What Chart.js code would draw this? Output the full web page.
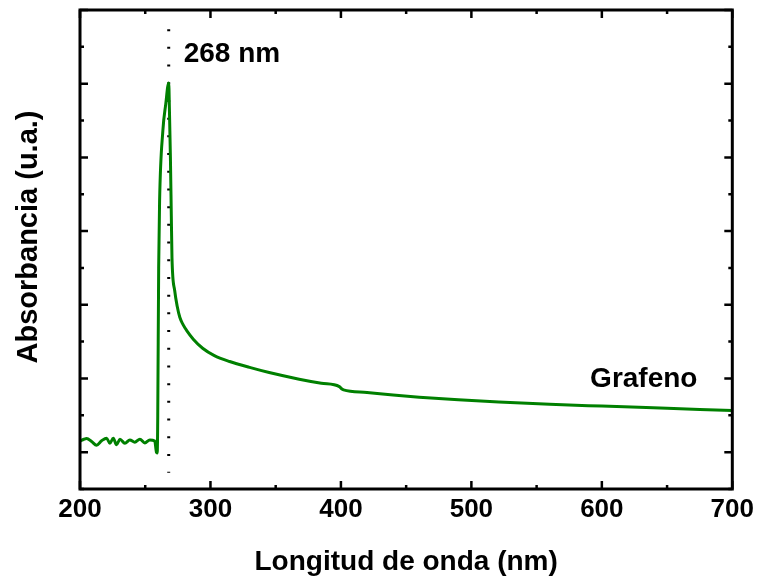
<!DOCTYPE html>
<html>
<head>
<meta charset="utf-8">
<script src="https://cdn.jsdelivr.net/npm/chart.js@4.4.1/dist/chart.umd.min.js"></script>
<style>
  html, body { margin: 0; padding: 0; background: #ffffff; }
  #c { display: block; }
</style>
</head>
<body>
<canvas id="c" width="759" height="579"></canvas>
<script>
// ---- data ----
const wavelength = [200, 203, 205.1, 208.9, 212.7, 216.6, 220.4, 222.9, 225.5, 228.0, 230.6,
  234.4, 238.2, 242.0, 245.9, 249.7, 253.5, 257.3, 258.6, 259.2, 259.6,
  260.3, 261.0, 263.5, 265.7, 268.0, 268.6, 269.3, 270.0, 270.5, 272.6,
  274.5, 276.5, 279.0, 281.8, 287.0, 294.0, 303.0, 314.7, 330, 345,
  368, 385, 398.8, 400.5, 402, 420, 440, 460, 490, 521,
  560, 600, 650, 700];
const absorbance = [0.15, 0.175, 0.185, 0.145, 0.095, 0.155, 0.19, 0.12, 0.19, 0.10, 0.175,
  0.12, 0.165, 0.135, 0.175, 0.125, 0.165, 0.15, 0.0, -0.01, 0.5,
  2.5, 3.4, 4.36, 4.72, 5.01, 4.6, 4.0, 3.2, 2.64, 2.19,
  1.98, 1.83, 1.73, 1.65, 1.53, 1.41, 1.31, 1.23, 1.15, 1.08,
  0.99, 0.935, 0.89, 0.86, 0.845, 0.81, 0.775, 0.745, 0.71, 0.68,
  0.65, 0.625, 0.595, 0.565];
const seriesName = 'Grafeno';
const peakWavelength = 268;
const peakLabel = '268 nm';
const markerRange = [5.74, -0.28];
const xTickValues = [200, 300, 400, 500, 600, 700];
const xMinorTicks = [250, 350, 450, 550, 650];
const yMajorTicks = [0, 1, 2, 3, 4, 5, 6];
const yMinorTicks = [-0.5, 0.5, 1.5, 2.5, 3.5, 4.5, 5.5];
const xTitle = 'Longitud de onda (nm)';
const yTitle = 'Absorbancia (u.a.)';
const seriesLabelPos = { x: 591, y: 0.88 };

const FONT = '"Liberation Sans", Arial, Helvetica, sans-serif';
Chart.defaults.font.family = FONT;
Chart.defaults.color = '#000';

const points = wavelength.map((w, i) => ({ x: w, y: absorbance[i] }));
const markerPts = markerRange.map(v => ({ x: peakWavelength, y: v }));

const decor = {
  id: 'decor',
  afterDraw(chart) {
    const ctx = chart.ctx;
    const a = chart.chartArea;
    const xs = chart.scales.x, ys = chart.scales.y;
    ctx.save();
    ctx.strokeStyle = '#000';
    ctx.lineWidth = 2.5;
    const drawX = (vals, len) => vals.forEach(v => {
      const px = xs.getPixelForValue(v);
      ctx.beginPath();
      ctx.moveTo(px, a.bottom); ctx.lineTo(px, a.bottom - len);
      ctx.moveTo(px, a.top); ctx.lineTo(px, a.top + len);
      ctx.stroke();
    });
    const drawY = (vals, len) => vals.forEach(v => {
      const py = ys.getPixelForValue(v);
      ctx.beginPath();
      ctx.moveTo(a.left, py); ctx.lineTo(a.left + len, py);
      ctx.moveTo(a.right, py); ctx.lineTo(a.right - len, py);
      ctx.stroke();
    });
    drawX(xTickValues, 8); drawX(xMinorTicks, 4);
    drawY(yMajorTicks, 8); drawY(yMinorTicks, 4);
    ctx.lineWidth = 3;
    ctx.strokeRect(a.left, a.top, a.right - a.left, a.bottom - a.top);
    ctx.fillStyle = '#000';
    ctx.font = 'bold 28px ' + FONT;
    ctx.textAlign = 'left';
    ctx.textBaseline = 'alphabetic';
    ctx.fillText(peakLabel, xs.getPixelForValue(peakWavelength) + 15, 62);
    ctx.fillText(seriesName, xs.getPixelForValue(seriesLabelPos.x), ys.getPixelForValue(seriesLabelPos.y));
    ctx.font = 'bold 29px ' + FONT;
    ctx.translate(29, 237);
    ctx.rotate(-Math.PI / 2);
    ctx.textAlign = 'center';
    ctx.textBaseline = 'middle';
    ctx.fillText(yTitle, 0, 0);
    ctx.restore();
  }
};

new Chart(document.getElementById('c'), {
  type: 'line',
  data: {
    datasets: [
      {
        label: seriesName,
        data: points,
        borderColor: 'rgb(0,128,0)',
        borderWidth: 3,
        pointRadius: 0,
        cubicInterpolationMode: 'monotone',
        fill: false
      },
      {
        label: 'peak',
        data: markerPts,
        borderColor: '#000',
        borderWidth: 3,
        borderDash: [2, 15.7],
        pointRadius: 0,
        fill: false
      }
    ]
  },
  options: {
    responsive: false,
    animation: false,
    layout: { padding: { top: 10, right: 25, left: 0, bottom: 0 } },
    plugins: { legend: { display: false }, tooltip: { enabled: false } },
    scales: {
      x: {
        type: 'linear',
        min: 200, max: 700,
        afterBuildTicks: s => { s.ticks = xTickValues.map(v => ({ value: v })); },
        afterFit: s => { s.height = 90; },
        ticks: { font: { size: 26, weight: 'bold' }, color: '#000', padding: 5, maxRotation: 0, autoSkip: false },
        grid: { display: false, drawTicks: false },
        border: { display: false },
        title: { display: true, text: xTitle, font: { size: 28, weight: 'bold' }, color: '#000', padding: 0 }
      },
      y: {
        type: 'linear',
        min: -0.5, max: 6,
        afterFit: s => { s.width = 80; },
        ticks: { display: false },
        grid: { display: false, drawTicks: false },
        border: { display: false }
      }
    }
  },
  plugins: [decor]
});
</script>
</body>
</html>
